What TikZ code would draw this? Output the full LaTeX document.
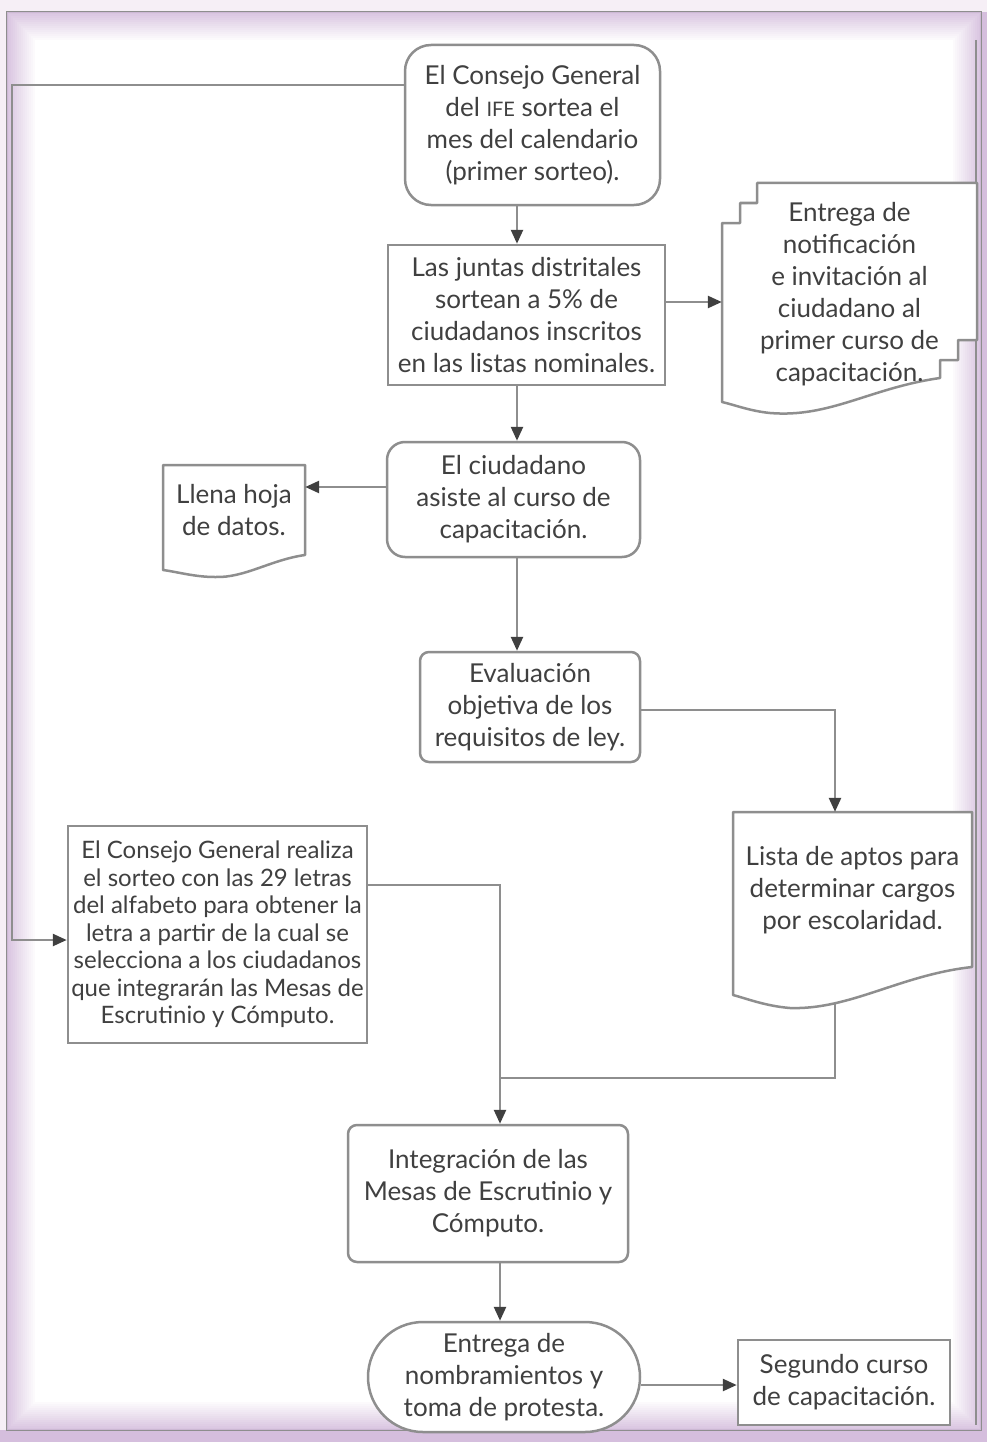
\documentclass[tikz,border=0pt]{standalone}
\usepackage{fontspec}
\setmainfont{Lato}
\usetikzlibrary{positioning, arrows.meta, calc, shapes.misc}
\definecolor{linegray}{HTML}{8E8E8E}
\definecolor{txtgray}{HTML}{404040}
\definecolor{lavender}{HTML}{D5BEDD}
\definecolor{paper}{HTML}{F6EFF6}

\begin{document}
\begin{tikzpicture}[x=1pt, y=-1pt,
  box/.style={draw=linegray, line width=2.5pt, fill=white, align=center,
              text=txtgray, font=\fontsize{26}{32}\selectfont, inner sep=0pt},
  rbox/.style={box, rounded corners=26pt},
  cbox/.style={box, rounded corners=9pt},
  tbox/.style={box, rounded rectangle},
  dtext/.style={align=center, text=txtgray, font=\fontsize{26}{32}\selectfont,
                inner sep=0pt},
  dshape/.style={draw=linegray, line width=2.5pt, fill=white, line join=round},
  link/.style={draw=linegray, line width=2.5pt},
  arr/.style={link, -{Triangle[length=14pt, width=12pt, color=txtgray]}},
]
\useasboundingbox (0,0) rectangle (987,1442);

%% ---- Frame ----
\fill[paper] (0,0) rectangle (987,1442);
\fill[lavender] (0,1430) rectangle (987,1442);
\fill[lavender] (981,12) rectangle (987,1442);
\draw[linegray, line width=2pt, fill=white] (7,12) rectangle (981,1430);
\foreach \i in {1,...,14} {
  \pgfmathsetmacro\op{0.95*(1-\i/15)}
  \draw[lavender, line width=2pt, opacity=\op]
    ({7+2*\i-1},{12+2*\i-1}) rectangle ({981-2*\i+1},{1430-2*\i+1});
}
\draw[linegray, line width=1.5pt] (976,40) -- (976,1425);

%% ---- Document shapes ----
\draw[dshape] (757,183) -- (977,183) -- (977,340) -- (958,340) -- (958,360)
  -- (940,360) -- (940,378) .. controls (870,388) and (830,418) .. (770,413)
  .. controls (750,411) and (735,405) .. (722,402) -- (722,223) -- (740,223)
  -- (740,203) -- (757,203) -- cycle;

\draw[dshape] (163,465) -- (305,465) -- (305,555)
  .. controls (270,560) and (245,578) .. (215,577)
  .. controls (195,577) and (178,572) .. (163,570) -- cycle;

\draw[dshape] (733,812) -- (972,812) -- (972,967)
  .. controls (900,975) and (850,1010) .. (790,1008)
  .. controls (765,1006) and (745,998) .. (733,995) -- cycle;

%% ---- Main column ----
\node[rbox, minimum width=255pt, minimum height=160pt] (consejo) at (532.5,125)
  {El Consejo General\\ del {\fontsize{20}{32}\selectfont IFE} sortea el\\
   mes del calendario\\ (primer sorteo).};

\node[box, minimum width=277pt, minimum height=140pt] (juntas) at (526.5,315)
  {Las juntas distritales\\ sortean a 5\% de\\ ciudadanos inscritos\\
   en las listas nominales.};

\node[dtext, minimum width=255pt, minimum height=227pt] (notif) at (849.5,294)
  {Entrega de\\ notificación\\ e invitación al\\ ciudadano al\\
   primer curso de\\ capacitación.};

\node[box, rounded corners=18pt, minimum width=253pt, minimum height=115pt]
  (ciudadano) at (513.5,499.5)
  {El ciudadano\\ asiste al curso de\\ capacitación.};

\node[dtext, minimum width=142pt, minimum height=90pt] (llena) at (234,510)
  {Llena hoja\\ de datos.};

\node[cbox, minimum width=220pt, minimum height=110pt] (evaluacion) at (530,707)
  {Evaluación\\ objetiva de los\\ requisitos de ley.};

\node[dtext, minimum width=239pt, minimum height=156pt] (lista) at (852.5,890)
  {Lista de aptos para\\ determinar cargos\\ por escolaridad.};
\coordinate (listabot) at (835,1003);

\node[box, font=\fontsize{24}{27.5}\selectfont, minimum width=299pt,
      minimum height=217pt] (sorteo) at (217.5,934.5)
  {El Consejo General realiza\\ el sorteo con las 29 letras\\
   del alfabeto para obtener la\\ letra a partir de la cual se\\
   selecciona a los ciudadanos\\ que integrarán las Mesas de\\
   Escrutinio y Cómputo.};

\node[cbox, minimum width=280pt, minimum height=137pt] (integracion)
  at (488,1193.5)
  {Integración de las\\ Mesas de Escrutinio y\\ Cómputo.};

\node[tbox, minimum width=272pt, minimum height=110pt] (entrega) at (504,1377)
  {Entrega de\\ nombramientos y\\ toma de protesta.};

\node[box, minimum width=212pt, minimum height=85pt] (segundo) at (844,1382.5)
  {Segundo curso\\ de capacitación.};

%% ---- Connectors ----
\coordinate (col) at (517,0);
\coordinate (join) at (500,1078);
\coordinate (loop) at (12,0);

\draw[arr] (consejo.south -| col) -- (juntas.north -| col);
\draw[arr] ([yshift=13pt]juntas.east) -- ([yshift=13pt]juntas.east -| notif.west);
\draw[arr] (juntas.south -| col) -- (ciudadano.north -| col);
\draw[arr] ([yshift=12.5pt]ciudadano.west)
  -- ([yshift=12.5pt]ciudadano.west -| llena.east);
\draw[arr] (ciudadano.south -| col) -- (evaluacion.north -| col);
\draw[arr] ([yshift=-3pt]evaluacion.east) -| (lista.north -| listabot);
\draw[link] (listabot) |- (join);
\draw[link] ([yshift=49.5pt]sorteo.east) -| (join);
\draw[arr] (join) -- (integracion.north -| join);
\draw[arr] ([yshift=40pt]consejo.west) -| ([yshift=-5.5pt]sorteo.west -| loop)
  -- ([yshift=-5.5pt]sorteo.west);
\draw[arr] (integracion.south -| join) -- (entrega.north -| join);
\draw[arr] ([yshift=-8pt]entrega.east) -- ([yshift=-8pt]entrega.east -| segundo.west);

\end{tikzpicture}
\end{document}
